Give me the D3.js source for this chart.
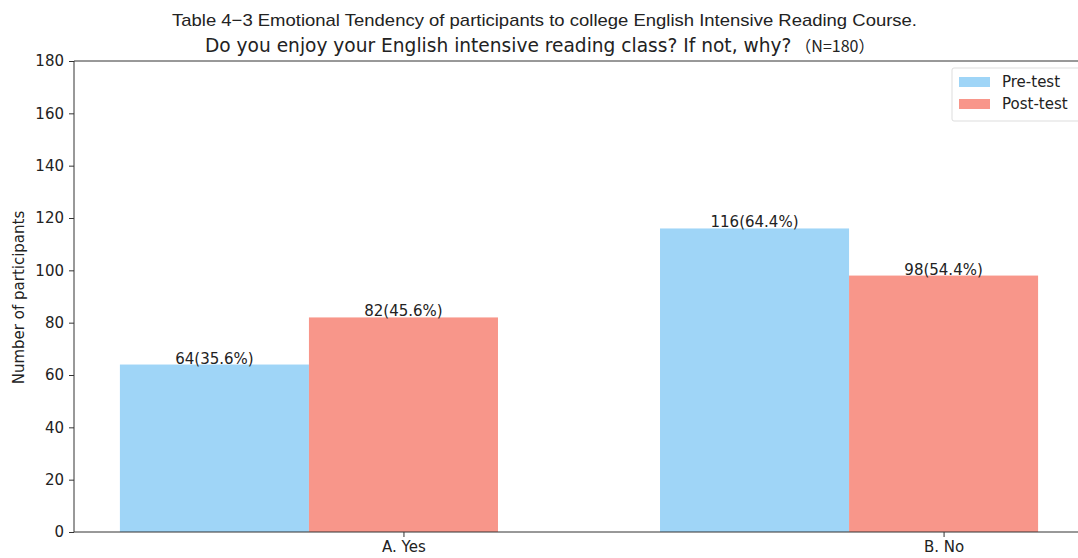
<!DOCTYPE html>
<html>
<head>
<meta charset="utf-8">
<script src="https://cdn.jsdelivr.net/npm/d3@7"></script>
<style>
  body { margin: 0; background: #fff; }
  svg { display: block; }
  text { fill: #222; }
</style>
</head>
<body>
<svg id="chart" width="1078" height="558"></svg>
<script>
// Survey answers and participant counts
const categories = ["A. Yes", "B. No"];
const seriesNames = ["Pre-test", "Post-test"];
const preTest = [64, 116];
const postTest = [82, 98];
const prePct = ["35.6%", "64.4%"];
const postPct = ["45.6%", "54.4%"];
const yTicks = [0, 20, 40, 60, 80, 100, 120, 140, 160, 180];
const colors = ["#9fd5f7", "#f8968a"];

const svg = d3.select("#chart");
const plotLeft = 74, plotTop = 61, plotBottom = 532, plotRight = 1084;
const fs = 15;

// Categories sit at 0 and 1; the pre-test bar is drawn one bar-width to the
// left of the tick, the post-test bar is centred on it
const barW = 0.35;
const x = d3.scaleLinear().domain([-0.61, 1.26]).range([plotLeft, plotRight]);
const y = d3.scaleLinear().domain([0, 180]).range([plotBottom, plotTop]);

const series = [
  { name: seriesNames[0], values: preTest, pct: prePct, offset: -barW, color: colors[0] },
  { name: seriesNames[1], values: postTest, pct: postPct, offset: 0, color: colors[1] }
];

// Bars with value labels
series.forEach(s => {
  svg.append("g").selectAll("rect")
    .data(s.values)
    .join("rect")
    .attr("x", (d, i) => x(i + s.offset - barW / 2))
    .attr("width", x(barW) - x(0))
    .attr("y", d => y(d))
    .attr("height", d => y(0) - y(d))
    .attr("fill", s.color);

  svg.append("g").selectAll("text")
    .data(s.values)
    .join("text")
    .attr("x", (d, i) => x(i + s.offset))
    .attr("y", d => y(d) - 1)
    .attr("text-anchor", "middle")
    .attr("font-family", "DejaVu Sans")
    .attr("font-size", fs)
    .text((d, i) => `${d}(${s.pct[i]})`);
});

// Y axis
const yAxis = svg.append("g")
  .attr("transform", `translate(${plotLeft},0)`)
  .call(d3.axisLeft(y).tickValues(yTicks).tickSize(5).tickPadding(5));
yAxis.select(".domain").attr("stroke", "#333").attr("d", `M0,${plotBottom}V${plotTop}`);
yAxis.selectAll(".tick line").attr("stroke", "#333");
yAxis.selectAll("text").attr("font-family", "DejaVu Sans").attr("font-size", fs).attr("fill", "#222");

// X axis
const xAxis = svg.append("g")
  .attr("transform", `translate(0,${plotBottom})`)
  .call(d3.axisBottom(x).tickValues([0, 1]).tickFormat(i => categories[i]).tickSize(5).tickPadding(4));
xAxis.select(".domain").attr("stroke", "#333").attr("d", `M${plotLeft},0H${plotRight}`);
xAxis.selectAll(".tick line").attr("stroke", "#333");
xAxis.selectAll("text").attr("font-family", "DejaVu Sans").attr("font-size", fs).attr("fill", "#222");

// Top spine
svg.append("line")
  .attr("x1", plotLeft).attr("x2", plotRight)
  .attr("y1", plotTop).attr("y2", plotTop)
  .attr("stroke", "#333");

// Axis label
svg.append("text")
  .attr("transform", `translate(24,${(plotTop + plotBottom) / 2 + 1}) rotate(-90)`)
  .attr("text-anchor", "middle")
  .attr("font-family", "DejaVu Sans")
  .attr("font-size", fs)
  .text("Number of participants");

// Titles
svg.append("text")
  .attr("x", 172).attr("y", 26)
  .attr("font-family", "Liberation Sans Narrow, Liberation Sans")
  .attr("font-size", 17)
  .attr("textLength", 745)
  .attr("lengthAdjust", "spacingAndGlyphs")
  .text("Table 4\u22123 Emotional Tendency of participants to college English Intensive Reading Course.");
const t2 = svg.append("text")
  .attr("x", 205).attr("y", 52)
  .attr("font-family", "DejaVu Sans")
  .attr("font-size", 18.6);
t2.append("tspan").text("Do you enjoy your English intensive reading class? If not, why?");
t2.append("tspan").attr("dx", 4).attr("font-family", "Noto Sans CJK SC").attr("font-size", 16).text("（N=180）");

// Legend
const lg = svg.append("g").attr("transform", "translate(952,68)");
lg.append("rect")
  .attr("width", 130).attr("height", 53).attr("rx", 2)
  .attr("fill", "#fff").attr("stroke", "#ddd");
series.forEach((s, i) => {
  lg.append("rect")
    .attr("x", 7).attr("y", 9 + i * 22)
    .attr("width", 31).attr("height", 10)
    .attr("fill", s.color);
  lg.append("text")
    .attr("x", 50).attr("y", 19 + i * 22)
    .attr("font-family", "DejaVu Sans")
    .attr("font-size", fs)
    .text(s.name);
});
</script>
</body>
</html>
